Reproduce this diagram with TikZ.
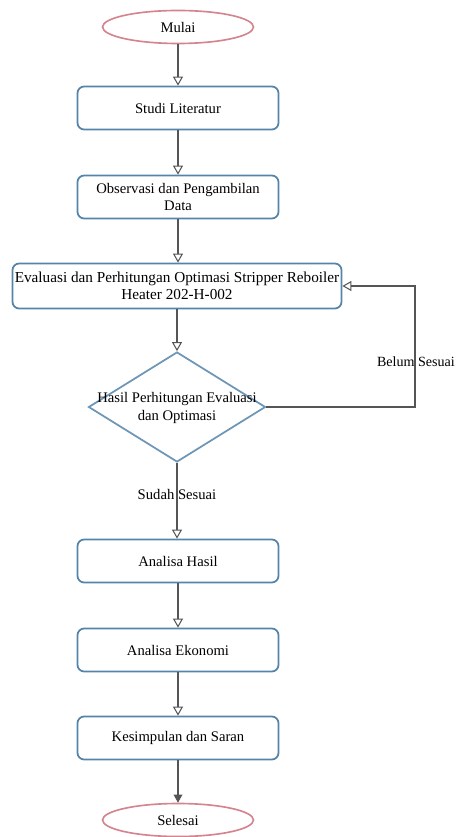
\documentclass[tikz,border=0pt]{standalone}
\usepackage{fontspec}
\setmainfont{Liberation Serif}
\newfontfamily\hurufserif{Liberation Serif}
\usepackage{xcolor}
\usetikzlibrary{shapes.geometric}
\usetikzlibrary{arrows.meta}
\definecolor{garisbox}{RGB}{84,132,170}
\definecolor{garisoval}{RGB}{212,132,142}
\definecolor{garisalur}{RGB}{85,85,85}

\begin{document}
\begin{tikzpicture}[x=0.3mm, y=-0.3mm,
    every node/.style={font=\hurufserif\fontsize{12.5}{15}\selectfont},
    terminal/.style={ellipse, draw=garisoval, line width=1.4pt, fill=white, minimum width=45.3mm, minimum height=9.9mm, inner sep=0},
    proses/.style={rectangle, rounded corners=2mm, draw=garisbox, line width=1.5pt, fill=white, minimum width=60.3mm, minimum height=12.9mm, align=center, inner sep=1pt},
    keputusan/.style={diamond, draw=garisbox!85, line width=1.5pt, fill=white, minimum width=53.1mm, minimum height=33mm, inner sep=0},
    alur/.style={draw=garisalur, line width=0.9pt, -{Triangle[open, length=2.7mm, width=3mm]}},
    alurakhir/.style={draw=garisalur, line width=0.9pt, -{Triangle[length=2.4mm, width=2.6mm]}}]
			    		\useasboundingbox (0,0) rectangle (457,837);
			    		\node[terminal] (mulai) at (178,27) {Mulai};
			    		\node[proses] (studi) at (178,108) {Studi Literatur};
			    		\node[proses] (observasi) at (178,197) {Observasi dan Pengambilan\\Data};
			    		\node[proses, minimum width=98.7mm, minimum height=13.5mm, font=\hurufserif\fontsize{13}{15}\selectfont] (evaluasi) at (177,286) {Evaluasi dan Perhitungan Optimasi Stripper Reboiler\\Heater 202-H-002};
			    		\node[keputusan] (hasil) at (177,407) {};
			    		\node[align=center] (hasilteks) at (177,408) {Hasil Perhitungan Evaluasi\\dan Optimasi};
			    		\node[proses] (analisa) at (178,561) {Analisa Hasil};
			    		\node[proses] (ekonomi) at (178,650) {Analisa Ekonomi};
			    		\node[proses] (kesimpulan) at (178,738) {Kesimpulan dan Saran};
			    		\node[terminal] (selesai) at (178,820) {Selesai};
			    		\coordinate (belok) at (415,407);
			    		\draw[alur] (mulai) -- (studi);
			    		\draw[alur] (studi) -- (observasi);
			    		\draw[alur] (observasi) -- (evaluasi.north -| observasi);
			    		\draw[alur] (evaluasi.south -| hasil) -- (hasil.north);
			    		\draw[alur] (hasil.south) -- node[pos=0.42] (sudah) {Sudah Sesuai} (analisa.north -| hasil);
			    		\draw[alur] (hasil.east) -- (belok) |- (evaluasi.east);
			    		\node[anchor=east, inner sep=0, font=\hurufserif\fontsize{12}{14}\selectfont] (belum) at (455,362) {Belum Sesuai};
			    		\draw[alur] (analisa) -- (ekonomi);
			    		\draw[alur] (ekonomi) -- (kesimpulan);
			    		\draw[alurakhir] (kesimpulan) -- (selesai);
			    	\end{tikzpicture}
\end{document}
